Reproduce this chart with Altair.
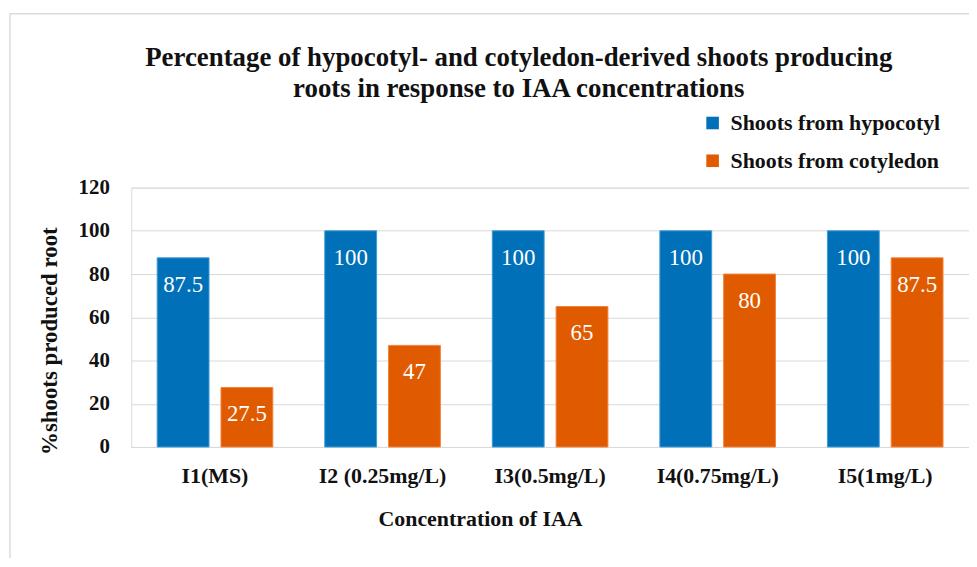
import altair as alt
import pandas as pd

categories = ["I1(MS)", "I2 (0.25mg/L)", "I3(0.5mg/L)", "I4(0.75mg/L)", "I5(1mg/L)"]
series = ["Shoots from hypocotyl", "Shoots from cotyledon"]
hypocotyl = [87.5, 100, 100, 100, 100]
cotyledon = [27.5, 47, 65, 80, 87.5]
labels_h = ["87.5", "100", "100", "100", "100"]
labels_c = ["27.5", "47", "65", "80", "87.5"]
title_lines = ["Percentage of hypocotyl- and cotyledon-derived shoots producing",
               "roots in response to IAA concentrations"]

rows = []
for i, c in enumerate(categories):
    rows.append({"cat": c, "series": series[0], "value": hypocotyl[i], "label": labels_h[i]})
    rows.append({"cat": c, "series": series[1], "value": cotyledon[i], "label": labels_c[i]})
df = pd.DataFrame(rows)
one = pd.DataFrame({"k": [0]})

FONT = "Liberation Serif"
colors = ["#0070b8", "#e05a00"]
strokes = ["#3d9ad6", "#f5823a"]

x = alt.X("cat:N", sort=categories,
          scale=alt.Scale(paddingInner=0.31, paddingOuter=0.155),
          axis=alt.Axis(title="Concentration of IAA", labelAngle=0, labelFont=FONT,
                        labelFontSize=22, labelFontWeight="bold", labelColor="#111",
                        labelPadding=19, ticks=False, domainColor="#d9d9d9",
                        titleFont=FONT, titleFontSize=22, titleFontWeight="bold",
                        titleColor="#111", titleX=351, titleY=72, titleBaseline="middle"))
xo = alt.XOffset("series:N", sort=series, scale=alt.Scale(paddingInner=0.1875, paddingOuter=0))
y = alt.Y("value:Q", scale=alt.Scale(domain=[0, 120]),
          axis=alt.Axis(title="%shoots produced root", values=[0, 20, 40, 60, 80, 100, 120],
                        labelFont=FONT, labelFontSize=21, labelFontWeight="bold",
                        labelColor="#111", labelPadding=22, ticks=False, domain=False,
                        gridColor="#d9d9d9", titleFont=FONT, titleFontSize=23,
                        titleFontWeight="bold", titleColor="#111",
                        titleX=-82, titleY=154, titleBaseline="middle", titleAlign="center"))

bars = alt.Chart(df).mark_bar(strokeWidth=1).encode(
    x=x, xOffset=xo, y=y,
    color=alt.Color("series:N", sort=series, scale=alt.Scale(domain=series, range=colors),
                    legend=alt.Legend(title=None, orient="none", legendX=574, legendY=-76,
                                      symbolType="square", symbolSize=160,
                                      symbolStrokeWidth=0, labelFont=FONT,
                                      labelFontSize=22, labelFontWeight="bold",
                                      labelColor="#111", rowPadding=16, labelOffset=7,
                                      labelLimit=0)),
    stroke=alt.Stroke("series:N", sort=series, scale=alt.Scale(domain=series, range=strokes),
                      legend=None),
)

text = alt.Chart(df).mark_text(baseline="middle", dy=27, color="white", font=FONT,
                               fontSize=23).encode(
    x=x, xOffset=xo, y=y, text="label:N")

frame = alt.Chart(one).mark_rect(filled=False, stroke="#dcdcdc", strokeWidth=1.5).encode(
    x=alt.value(-122), x2=alt.value(900), y=alt.value(-175), y2=alt.value(600))

t1 = alt.Chart(one).mark_text(font=FONT, fontSize=27, fontWeight="bold", color="#111",
                              baseline="middle", align="center").encode(
    x=alt.value(390), y=alt.value(-130), text=alt.value(title_lines[0]))
t2 = alt.Chart(one).mark_text(font=FONT, fontSize=27, fontWeight="bold", color="#111",
                              baseline="middle", align="center").encode(
    x=alt.value(390), y=alt.value(-99), text=alt.value(title_lines[1]))

chart = alt.layer(frame, bars, text, t1, t2).properties(
    width=843, height=261,
    autosize=alt.AutoSizeParams(type="none"),
    padding={"left": 124, "top": 179, "right": 0, "bottom": 110},
).configure_view(stroke=None).configure(font=FONT)

chart.save("out.html", embed_options={"renderer": "svg", "actions": False})
